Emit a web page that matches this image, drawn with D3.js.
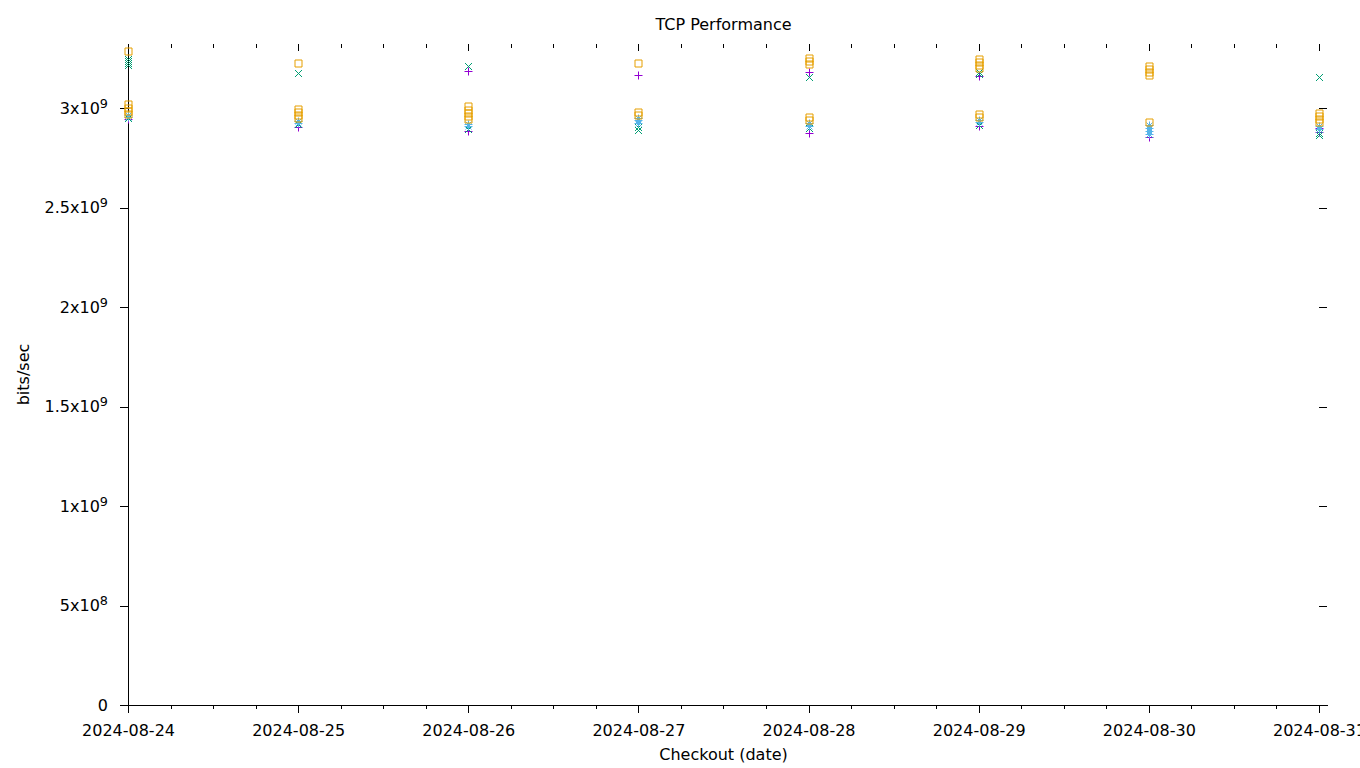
<!DOCTYPE html>
<html>
<head>
<meta charset="utf-8">
<script src="https://cdn.jsdelivr.net/npm/d3@7"></script>
<style>
  body { margin: 0; background: #fff; }
  text { font-family: "DejaVu Sans", sans-serif; }
</style>
</head>
<body>
<div id="chart"></div>
<script>
var dates = ["2024-08-24", "2024-08-25", "2024-08-26", "2024-08-27",
             "2024-08-28", "2024-08-29", "2024-08-30", "2024-08-31"];

var yTicks = [0, 5e8, 1e9, 1.5e9, 2e9, 2.5e9, 3e9];

// one inner list per date, values in bits/sec
var plusValues = [
  [2.945e9],
  [2.905e9],
  [3.186e9, 2.884e9],
  [3.166e9],
  [3.181e9, 2.874e9],
  [3.161e9, 2.91e9],
  [2.854e9],
  [2.9e9, 2.88e9]
];
var crossValues = [
  [3.246e9, 3.236e9, 3.226e9, 3.216e9, 2.95e9],
  [3.176e9, 2.92e9],
  [3.211e9, 2.895e9],
  [2.905e9, 2.89e9],
  [3.156e9, 2.9e9],
  [3.181e9, 3.17e9, 2.915e9],
  [2.87e9],
  [3.156e9, 2.874e9, 2.866e9]
];
var starValues = [
  [2.965e9, 2.955e9],
  [2.935e9, 2.925e9],
  [2.92e9, 2.91e9],
  [2.95e9, 2.94e9, 2.925e9],
  [2.925e9, 2.91e9],
  [2.94e9, 2.93e9],
  [2.915e9, 2.9e9, 2.885e9, 2.87e9],
  [2.91e9, 2.895e9]
];
var squareValues = [
  [3.286e9, 3.02e9, 3.0e9, 2.985e9, 2.97e9],
  [3.226e9, 2.995e9, 2.98e9, 2.965e9, 2.95e9],
  [3.01e9, 2.99e9, 2.975e9, 2.96e9, 2.945e9],
  [3.226e9, 2.98e9, 2.965e9],
  [3.25e9, 3.236e9, 3.221e9, 2.955e9, 2.94e9],
  [3.246e9, 3.231e9, 3.216e9, 3.201e9, 2.97e9, 2.955e9],
  [3.211e9, 3.196e9, 3.181e9, 3.166e9, 2.93e9],
  [2.975e9, 2.96e9, 2.945e9, 2.93e9]
];

var svgWidth = 1360;
var svgHeight = 768;
var margin = { top: 44, right: 33, bottom: 63, left: 128 };
var width = svgWidth - margin.left - margin.right;
var height = svgHeight - margin.top - margin.bottom;

var parseDate = d3.utcParse("%Y-%m-%d");
var dateObjs = dates.map(parseDate);

var svg = d3.select("#chart")
  .append("svg")
  .attr("width", svgWidth)
  .attr("height", svgHeight);

var chartGroup = svg.append("g")
  .attr("transform", `translate(${margin.left}, ${margin.top})`);

// range runs a little past the last date, like the original
var xEnd = d3.utcMinute.offset(dateObjs[dateObjs.length - 1], 68);
var x = d3.scaleUtc()
  .domain([dateObjs[0], xEnd])
  .range([0, width]);
var y = d3.scaleLinear()
  .domain([0, 3.322e9])
  .range([height, 0]);

var minorTicks = d3.utcHour.every(6).range(dateObjs[0], xEnd);

// bottom axis
var xAxis = chartGroup.append("g")
  .attr("transform", `translate(0, ${height})`)
  .call(d3.axisBottom(x).tickValues(dateObjs)
    .tickFormat(d3.utcFormat("%Y-%m-%d"))
    .tickSize(8).tickPadding(12).tickSizeOuter(0));
chartGroup.append("g")
  .attr("transform", `translate(0, ${height})`)
  .call(d3.axisBottom(x).tickValues(minorTicks).tickFormat("")
    .tickSize(4).tickSizeOuter(0))
  .select(".domain").remove();

// top mirror ticks (inside)
chartGroup.append("g")
  .call(d3.axisBottom(x).tickValues(dateObjs).tickFormat("")
    .tickSize(7).tickSizeOuter(0))
  .select(".domain").remove();
chartGroup.append("g")
  .call(d3.axisBottom(x).tickValues(minorTicks).tickFormat("")
    .tickSize(4).tickSizeOuter(0))
  .select(".domain").remove();

// left axis
var yAxis = chartGroup.append("g")
  .call(d3.axisLeft(y).tickValues(yTicks).tickSize(8).tickPadding(12).tickSizeOuter(0));

// right mirror ticks (inside)
chartGroup.append("g")
  .attr("transform", `translate(${width}, 0)`)
  .call(d3.axisLeft(y).tickValues(yTicks).tickFormat("").tickSize(-0).tickSizeInner(8).tickSizeOuter(0))
  .call(g => g.select(".domain").remove())
  .selectAll(".tick line").attr("x2", -8);

chartGroup.selectAll(".tick text")
  .style("font-size", "16px")
  .attr("fill", "#000");
chartGroup.selectAll(".domain, .tick line")
  .attr("stroke", "#000")
  .style("shape-rendering", "crispEdges");

// y labels like 3x10^9
yAxis.selectAll(".tick text").each(function(d) {
  var t = d3.select(this).text(null);
  if (d === 0) { t.text("0"); return; }
  var exp = Math.floor(Math.log10(d));
  var mant = +(d / Math.pow(10, exp)).toFixed(2);
  t.append("tspan").text(mant + "x10");
  t.append("tspan").attr("dy", "-0.45em").style("font-size", "12.8px").text(exp);
});

// points
var series = [
  { values: plusValues, color: "#9400d3", shape: "M-4,0H4M0,-4V4" },
  { values: crossValues, color: "#009e73", shape: "M-3.5,-3.5L3.5,3.5M-3.5,3.5L3.5,-3.5" },
  { values: starValues, color: "#56b4e9", shape: "M-4,0H4M0,-4V4M-3,-3L3,3M-3,3L3,-3" },
  { values: squareValues, color: "#e69f00", shape: "M-3.5,-3.5H3.5V3.5H-3.5Z" }
];

series.forEach(function(s) {
  var pts = [];
  s.values.forEach(function(list, i) {
    list.forEach(function(v) { pts.push({ date: dateObjs[i], value: v }); });
  });
  chartGroup.append("g").selectAll("path")
    .data(pts)
    .enter()
    .append("path")
    .attr("transform", d => `translate(${Math.round(x(d.date)) + 0.5}, ${Math.round(y(d.value)) + 0.5})`)
    .attr("d", s.shape)
    .attr("fill", "none")
    .attr("stroke", s.color)
    .attr("stroke-width", 1);
});

// titles
svg.append("text")
  .attr("x", margin.left + (width - 8) / 2)
  .attr("y", 30)
  .style("text-anchor", "middle")
  .style("font-size", "16px")
  .text("TCP Performance");

svg.append("text")
  .attr("x", margin.left + (width - 8) / 2)
  .attr("y", 760)
  .style("text-anchor", "middle")
  .style("font-size", "16px")
  .text("Checkout (date)");

svg.append("text")
  .attr("transform", `translate(29, ${margin.top + height / 2}) rotate(-90)`)
  .style("text-anchor", "middle")
  .style("font-size", "16px")
  .text("bits/sec");
</script>
</body>
</html>
